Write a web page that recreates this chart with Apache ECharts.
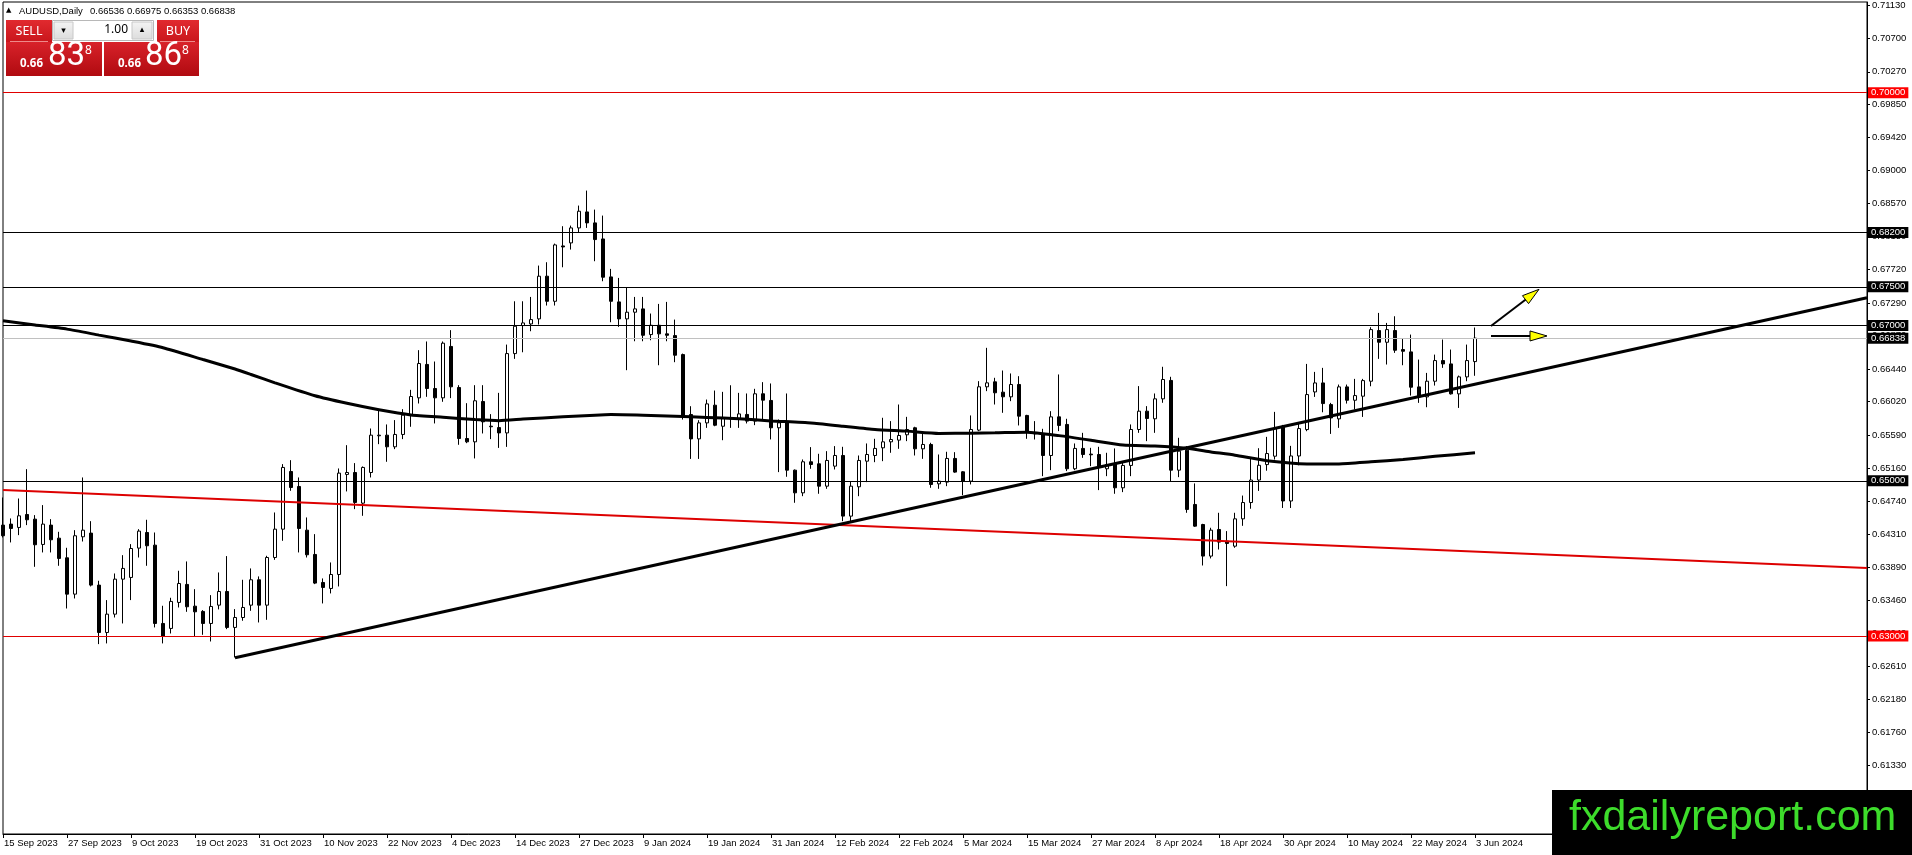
<!DOCTYPE html>
<html><head><meta charset="utf-8">
<script src="https://cdn.jsdelivr.net/npm/echarts@6.0.0/dist/echarts.min.js"></script>
<style>html,body{margin:0;padding:0;background:#fff;overflow:hidden}#c{width:1912px;height:855px}</style>
</head><body><div id="c"></div>
<script>
// ---------- data ----------
const symbolName = 'AUDUSD,Daily';
const dateLabels = ['15 Sep 2023','27 Sep 2023','9 Oct 2023','19 Oct 2023','31 Oct 2023','10 Nov 2023','22 Nov 2023','4 Dec 2023','14 Dec 2023','27 Dec 2023','9 Jan 2024','19 Jan 2024','31 Jan 2024','12 Feb 2024','22 Feb 2024','5 Mar 2024','15 Mar 2024','27 Mar 2024','8 Apr 2024','18 Apr 2024','30 Apr 2024','10 May 2024','22 May 2024','3 Jun 2024'];
const barsPerLabel = 8;
const slotCount = 234;
// [open, high, low, close]
const ohlc = [
[0.64429,0.64785,0.64270,0.64292],[0.64442,0.64515,0.64206,0.64386],[0.64399,0.64772,0.64300,0.64549],[0.64566,0.65150,0.64429,0.64498],
[0.64506,0.64558,0.63892,0.64176],[0.64180,0.64687,0.64077,0.64442],[0.64429,0.64506,0.64077,0.64240],[0.64261,0.64343,0.63905,0.64000],
[0.64008,0.64137,0.63355,0.63540],[0.63540,0.64364,0.63484,0.64292],[0.64279,0.65043,0.64218,0.64364],[0.64326,0.64480,0.63639,0.63656],
[0.63656,0.63712,0.62896,0.63046],[0.63046,0.63463,0.62905,0.63282],[0.63282,0.63806,0.63239,0.63733],[0.63733,0.64042,0.63162,0.63871],
[0.63755,0.64184,0.63463,0.64128],[0.64133,0.64377,0.64012,0.64352],[0.64334,0.64498,0.63905,0.64163],[0.64171,0.64334,0.63111,0.63162],
[0.63162,0.63390,0.62905,0.62995],[0.63098,0.63493,0.63033,0.63446],[0.63433,0.63841,0.63368,0.63677],[0.63665,0.63961,0.63312,0.63377],
[0.63385,0.63604,0.62995,0.63312],[0.63317,0.63334,0.63016,0.63162],[0.63162,0.63527,0.62930,0.63381],[0.63398,0.63819,0.63343,0.63574],
[0.63574,0.64030,0.63089,0.63111],[0.63111,0.63347,0.62724,0.63239],[0.63239,0.63725,0.63197,0.63368],[0.63398,0.63871,0.63325,0.63725],
[0.63725,0.63768,0.63175,0.63398],[0.63398,0.64034,0.63209,0.64012],[0.64012,0.64592,0.63982,0.64377],[0.64377,0.65215,0.64227,0.65172],
[0.65120,0.65266,0.64871,0.64914],[0.64927,0.65043,0.64077,0.64386],[0.64364,0.64528,0.64012,0.64047],[0.64051,0.64313,0.63669,0.63682],
[0.63690,0.63742,0.63420,0.63626],[0.63613,0.63948,0.63549,0.63793],[0.63793,0.65159,0.63639,0.65099],[0.65082,0.65459,0.64863,0.65107],
[0.65107,0.65228,0.64635,0.64721],[0.64712,0.65185,0.64549,0.65172],[0.65107,0.65674,0.65043,0.65588],[0.65580,0.65902,0.65472,0.65588],
[0.65588,0.65726,0.65245,0.65438],[0.65438,0.65782,0.65408,0.65597],[0.65597,0.65923,0.65537,0.65846],[0.65846,0.66172,0.65696,0.66086],
[0.66069,0.66683,0.65996,0.66511],[0.66499,0.66795,0.66082,0.66189],[0.66189,0.66537,0.65739,0.66069],[0.66069,0.66795,0.66018,0.66773],
[0.66731,0.66941,0.66065,0.66211],[0.66202,0.66232,0.65464,0.65545],[0.65545,0.66000,0.65485,0.65502],[0.65502,0.66232,0.65288,0.66031],
[0.66022,0.66232,0.65610,0.65760],[0.65704,0.65859,0.65537,0.65696],[0.65686,0.66133,0.65424,0.65617],[0.65617,0.66755,0.65437,0.66639],
[0.66639,0.67313,0.66571,0.66991],[0.67000,0.67313,0.66656,0.67034],[0.67021,0.67369,0.66927,0.67077],[0.67086,0.67773,0.67013,0.67636],
[0.67636,0.67816,0.67258,0.67313],[0.67313,0.68056,0.67258,0.68039],[0.68026,0.68280,0.67751,0.68013],[0.68065,0.68288,0.67979,0.68258],
[0.68258,0.68546,0.68194,0.68473],[0.68464,0.68739,0.68258,0.68323],[0.68323,0.68494,0.67829,0.68108],[0.68116,0.68417,0.67571,0.67623],
[0.67627,0.67730,0.67043,0.67313],[0.67305,0.67614,0.66983,0.67086],[0.67086,0.67485,0.66425,0.67172],[0.67172,0.67369,0.66798,0.67215],
[0.67215,0.67369,0.66798,0.66875],[0.66884,0.67155,0.66811,0.67004],[0.67004,0.67279,0.66489,0.66893],[0.66893,0.67305,0.66798,0.66875],
[0.66871,0.67077,0.66528,0.66618],[0.66626,0.66639,0.65789,0.65841],[0.65854,0.65961,0.65282,0.65540],[0.65540,0.65781,0.65282,0.65746],
[0.65746,0.66047,0.65682,0.65991],[0.65974,0.66163,0.65703,0.65716],[0.65703,0.66146,0.65523,0.65811],[0.65815,0.66231,0.65682,0.65798],
[0.65798,0.66133,0.65682,0.65862],[0.65855,0.66125,0.65739,0.65769],[0.65769,0.66185,0.65717,0.66121],[0.66121,0.66271,0.65790,0.66039],
[0.66035,0.66254,0.65533,0.65683],[0.65683,0.65790,0.65112,0.65747],[0.65760,0.66125,0.65052,0.65137],[0.65137,0.65146,0.64717,0.64845],
[0.64845,0.65275,0.64802,0.65245],[0.65245,0.65434,0.65155,0.65210],[0.65219,0.65348,0.64833,0.64931],[0.64931,0.65382,0.64897,0.65262],
[0.65189,0.65447,0.65146,0.65326],[0.65326,0.65438,0.64480,0.64545],[0.64545,0.64996,0.64468,0.64931],[0.64923,0.65326,0.64802,0.65262],
[0.65253,0.65481,0.64983,0.65339],[0.65326,0.65541,0.65240,0.65417],[0.65425,0.65812,0.65253,0.65502],[0.65502,0.65769,0.65361,0.65532],
[0.65524,0.65983,0.65412,0.65584],[0.65593,0.65824,0.65511,0.65661],[0.65683,0.65696,0.65326,0.65412],[0.65412,0.65610,0.65283,0.65468],
[0.65468,0.65490,0.64910,0.64953],[0.64961,0.65339,0.64897,0.64996],[0.64983,0.65374,0.64931,0.65288],[0.65288,0.65369,0.65103,0.65112],
[0.65116,0.65125,0.64815,0.64996],[0.64996,0.65842,0.64953,0.65661],[0.65653,0.66284,0.65640,0.66211],[0.66211,0.66713,0.66155,0.66262],
[0.66275,0.66327,0.65983,0.66134],[0.66142,0.66421,0.65876,0.66082],[0.66082,0.66383,0.66026,0.66241],[0.66241,0.66348,0.65713,0.65833],
[0.65842,0.65850,0.65541,0.65627],[0.65618,0.65769,0.65532,0.65605],[0.65605,0.65670,0.65060,0.65326],[0.65326,0.65897,0.65137,0.65824],
[0.65824,0.66370,0.65640,0.65713],[0.65726,0.65799,0.65125,0.65155],[0.65155,0.65481,0.65137,0.65417],[0.65417,0.65618,0.65296,0.65339],
[0.65344,0.65425,0.65189,0.65335],[0.65339,0.65438,0.64880,0.65189],[0.65155,0.65361,0.65060,0.65210],[0.65223,0.65417,0.64833,0.64910],
[0.64910,0.65232,0.64854,0.65198],[0.65198,0.65726,0.65060,0.65661],[0.65661,0.66220,0.65618,0.65897],[0.65897,0.65962,0.65511,0.65803],
[0.65799,0.66125,0.65618,0.66056],[0.66056,0.66469,0.66005,0.66305],[0.66293,0.66340,0.64996,0.65137],[0.65137,0.65554,0.65047,0.65382],
[0.65395,0.65447,0.64588,0.64631],[0.64695,0.64966,0.64407,0.64416],[0.64437,0.64446,0.63909,0.64030],[0.64030,0.64395,0.64000,0.64364],
[0.64373,0.64588,0.64115,0.64210],[0.64223,0.64352,0.63643,0.64193],[0.64158,0.64588,0.64137,0.64510],[0.64510,0.64810,0.64420,0.64720],
[0.64720,0.65290,0.64640,0.65010],[0.65010,0.65420,0.64870,0.65200],[0.65209,0.65566,0.65130,0.65351],[0.65317,0.65888,0.65274,0.65673],
[0.65703,0.65720,0.64650,0.64740],[0.64740,0.65450,0.64650,0.65320],[0.65320,0.65737,0.65200,0.65673],[0.65660,0.66506,0.65639,0.66111],
[0.66145,0.66403,0.66081,0.66261],[0.66261,0.66455,0.65883,0.65995],[0.65982,0.66004,0.65604,0.65810],[0.65798,0.66240,0.65682,0.66210],
[0.66210,0.66240,0.65995,0.66038],[0.66038,0.66313,0.65918,0.66098],[0.66090,0.66313,0.65823,0.66291],[0.66283,0.66979,0.66218,0.66948],
[0.66936,0.67163,0.66571,0.66785],[0.66785,0.67034,0.66498,0.66948],[0.66936,0.67120,0.66648,0.66682],[0.66691,0.66828,0.66489,0.66669],
[0.66661,0.66884,0.66098,0.66206],[0.66210,0.66562,0.66004,0.66081],[0.66081,0.66390,0.65948,0.66283],[0.66283,0.66626,0.66227,0.66549],
[0.66549,0.66820,0.66455,0.66506],[0.66506,0.66691,0.66111,0.66120],[0.66120,0.66356,0.65939,0.66339],[0.66339,0.66755,0.66283,0.66549],
[0.66536,0.66975,0.66353,0.66838]
];
// moving average: [bar index, value]
const maPoints = [[0,0.67061],[4,0.67008],[8,0.66954],[12,0.66877],[16,0.66800],[20,0.66715],[25,0.66563],[29,0.66440],[31,0.66370],[34,0.66262],[39,0.66095],[43,0.65998],[47,0.65915],[51,0.65849],[55,0.65818],[59,0.65789],[62,0.65775],[65,0.65795],[70,0.65825],[74,0.65846],[76,0.65853],[80,0.65845],[84,0.65833],[88,0.65817],[92,0.65799],[96,0.65772],[101,0.65745],[105,0.65703],[109,0.65661],[113,0.65640],[117,0.65611],[121,0.65614],[124,0.65618],[128,0.65626],[132,0.65582],[136,0.65523],[140,0.65460],[144,0.65447],[148,0.65418],[151,0.65372],[154,0.65330],[158,0.65258],[163,0.65218],[167,0.65218],[171,0.65244],[175,0.65274],[179,0.65315],[184,0.65360]];
const redTrend = [[0,0.64880],[233,0.63877]];
const blackTrend = [[29,0.62721],[233,0.67359]];
const levelValues = [0.70000,0.68200,0.67500,0.67000,0.66838,0.65000,0.63000];
const levelKinds  = ['red','black','black','black','bid','black','red'];
const yTicks = [0.71130,0.70700,0.70270,0.69850,0.69420,0.69000,0.68570,0.68150,0.67720,0.67290,0.66870,0.66440,0.66020,0.65590,0.65160,0.64740,0.64310,0.63890,0.63460,0.63040,0.62610,0.62180,0.61760,0.61330,0.60900];
const yMin = 0.604496, yMax = 0.711685;
// arrows: [fromBar, fromPrice, toBar, toPrice]
const arrows = [[186,0.66994,192,0.67467],[186,0.66866,193,0.66866]];
const bid = '0.66838', ask = '0.66868', lotSize = '1.00';
const watermark = 'fxdailyreport.com';

// ---------- build ----------
const FONT = '"Liberation Sans", Arial, sans-serif';
const slots = Array.from({length: slotCount}, (_, i) => String(i));
const candleData = ohlc.map(d => [d[0], d[3], d[2], d[1]]);
const lastBar = ohlc[ohlc.length - 1];
const showIdx = i => i % barsPerLabel === 0 && (i / barsPerLabel) < dateLabels.length;
const kindStyle = {
  red:   {line: '#e00000', bg: '#ff0000'},
  black: {line: '#000000', bg: '#000000'},
  bid:   {line: '#c0c0c0', bg: '#000000'}
};
const levelLines = levelValues.map((v, i) => ({
  yAxis: v,
  lineStyle: {color: kindStyle[levelKinds[i]].line, width: 1, type: 'solid'},
  label: {show: true, position: 'end', distance: 1, formatter: () => v.toFixed(5),
    color: '#fff', backgroundColor: kindStyle[levelKinds[i]].bg, padding: [1, 3, 0, 3],
    fontSize: 9.5, lineHeight: 10, fontFamily: FONT}
}));

const redGrad = (a, b) => new echarts.graphic.LinearGradient(0, 0, 0, 1, [{offset: 0, color: a}, {offset: 1, color: b}]);
const bidBig = bid.slice(4, 6), bidSmall = bid.slice(6), bidHead = bid.slice(0, 4);
const askBig = ask.slice(4, 6), askSmall = ask.slice(6), askHead = ask.slice(0, 4);

const chart = echarts.init(document.getElementById('c'), null, {renderer: 'canvas'});
chart.setOption({
  animation: false,
  backgroundColor: '#ffffff',
  grid: {left: 3, right: 45, top: 2, bottom: 21, show: true, borderColor: '#000', borderWidth: 1, backgroundColor: 'transparent'},
  xAxis: {
    type: 'category', data: slots, boundaryGap: false,
    axisLine: {show: true, lineStyle: {color: '#000', width: 1}},
    axisTick: {show: true, interval: i => showIdx(i), length: 4, lineStyle: {color: '#000'}},
    axisLabel: {interval: i => showIdx(i), formatter: (v, i) => dateLabels[i / barsPerLabel] || '',
      align: 'left', margin: 4, fontSize: 9.5, color: '#000', fontFamily: FONT, padding: [0, 0, 0, 1]},
    splitLine: {show: false}
  },
  yAxis: {
    type: 'value', position: 'right', min: yMin, max: yMax, scale: true,
    axisLine: {show: true, lineStyle: {color: '#000', width: 1}},
    axisTick: {show: true, length: 3, customValues: yTicks, lineStyle: {color: '#000'}},
    axisLabel: {customValues: yTicks, formatter: v => v.toFixed(5), margin: 5, fontSize: 9.5, color: '#000', fontFamily: FONT},
    splitLine: {show: false}
  },
  series: [
    {
      type: 'candlestick', data: candleData, barWidth: 4, z: 3,
      itemStyle: {color: '#ffffff', color0: '#000000', borderColor: '#000000', borderColor0: '#000000', borderWidth: 1},
      emphasis: {disabled: true},
      markLine: {silent: true, symbol: ['none', 'none'], animation: false, precision: 5, data: levelLines}
    },
    {type: 'line', data: redTrend, showSymbol: false, silent: true, z: 4, lineStyle: {color: '#dd0000', width: 2}},
    {type: 'line', data: maPoints, showSymbol: false, silent: true, smooth: 0.2, z: 5, lineStyle: {color: '#000', width: 3}},
    {type: 'line', data: blackTrend, showSymbol: false, silent: true, z: 5, lineStyle: {color: '#000', width: 3}},
    {
      type: 'custom', data: arrows, z: 6, silent: true,
      renderItem: (params, api) => {
        const a = api.coord([api.value(0), api.value(1)]);
        const b = api.coord([api.value(2), api.value(3)]);
        const dx = b[0] - a[0], dy = b[1] - a[1], len = Math.hypot(dx, dy);
        const ux = dx / len, uy = dy / len, hl = 17, hw = 5;
        const base = [b[0] - ux * hl, b[1] - uy * hl];
        const p1 = [base[0] - uy * hw, base[1] + ux * hw];
        const p2 = [base[0] + uy * hw, base[1] - ux * hw];
        return {type: 'group', children: [
          {type: 'line', shape: {x1: a[0], y1: a[1], x2: base[0] + ux * 2, y2: base[1] + uy * 2}, style: {stroke: '#000', lineWidth: 2}},
          {type: 'polygon', shape: {points: [b, p1, p2]}, style: {fill: '#ffff00', stroke: '#000', lineWidth: 1}}
        ]};
      }
    }
  ],
  graphic: [
    {type: 'text', left: 6, top: 7, style: {text: '▲', font: '7px "DejaVu Sans"', fill: '#000'}},
    {type: 'text', x: 19, y: 11, style: {text: symbolName, font: '9.5px ' + FONT, fill: '#000', verticalAlign: 'middle'}},
    {type: 'text', x: 90, y: 11, style: {text: lastBar.map(v => v.toFixed(5)).join(' '), font: '9.5px ' + FONT, fill: '#000', verticalAlign: 'middle'}},
    // SELL
    {type: 'rect', shape: {x: 6, y: 20, width: 46, height: 22}, style: {fill: redGrad('#e12a2f', '#c9161c')}},
    {type: 'line', shape: {x1: 10, y1: 41.5, x2: 48, y2: 41.5}, style: {stroke: '#ee8a8a', lineWidth: 1}},
    {type: 'text', x: 29, y: 31, style: {text: 'SELL', font: '12.5px "Noto Sans"', fill: '#fff', align: 'center', verticalAlign: 'middle'}},
    // spinner
    {type: 'rect', shape: {x: 52.5, y: 20.5, width: 101, height: 20}, style: {fill: '#ffffff', stroke: '#b8b8b8', lineWidth: 1}},
    {type: 'rect', shape: {x: 54, y: 22, width: 19, height: 17}, style: {fill: redGrad('#f4f4f4', '#dcdcdc'), stroke: '#c8c8c8'}},
    {type: 'rect', shape: {x: 132, y: 22, width: 20, height: 17}, style: {fill: redGrad('#f4f4f4', '#dcdcdc'), stroke: '#c8c8c8'}},
    {type: 'text', x: 63.5, y: 31, style: {text: '▾', font: '9px "DejaVu Sans"', fill: '#000', align: 'center', verticalAlign: 'middle'}},
    {type: 'text', x: 142, y: 30, style: {text: '▴', font: '9px "DejaVu Sans"', fill: '#000', align: 'center', verticalAlign: 'middle'}},
    {type: 'text', x: 128, y: 30, style: {text: lotSize, font: '12px "Noto Sans"', fill: '#000', align: 'right', verticalAlign: 'middle'}},
    // BUY
    {type: 'rect', shape: {x: 157, y: 20, width: 42, height: 22}, style: {fill: redGrad('#e12a2f', '#c9161c')}},
    {type: 'line', shape: {x1: 160, y1: 41.5, x2: 195, y2: 41.5}, style: {stroke: '#ee8a8a', lineWidth: 1}},
    {type: 'text', x: 178, y: 31, style: {text: 'BUY', font: '12.5px "Noto Sans"', fill: '#fff', align: 'center', verticalAlign: 'middle'}},
    // price boxes
    {type: 'rect', shape: {x: 6, y: 42, width: 96, height: 34}, style: {fill: redGrad('#d8222a', '#b00a10')}},
    {type: 'rect', shape: {x: 104, y: 42, width: 95, height: 34}, style: {fill: redGrad('#d8222a', '#b00a10')}},
    {type: 'text', x: 20, y: 64, style: {text: bidHead, font: 'bold 11.5px "Noto Sans"', fill: '#fff', verticalAlign: 'middle'}},
    {type: 'text', x: 48, y: 57, style: {text: bidBig, font: '33px Roboto', fill: '#fff', verticalAlign: 'middle'}},
    {type: 'text', x: 85, y: 51, style: {text: bidSmall, font: '12px "Noto Sans"', fill: '#fff', verticalAlign: 'middle'}},
    {type: 'text', x: 118, y: 64, style: {text: askHead, font: 'bold 11.5px "Noto Sans"', fill: '#fff', verticalAlign: 'middle'}},
    {type: 'text', x: 145, y: 57, style: {text: askBig, font: '33px Roboto', fill: '#fff', verticalAlign: 'middle'}},
    {type: 'text', x: 182, y: 51, style: {text: askSmall, font: '12px "Noto Sans"', fill: '#fff', verticalAlign: 'middle'}},
    // watermark
    {type: 'rect', z: 100, shape: {x: 1552, y: 790, width: 360, height: 65}, style: {fill: '#000'}},
    {type: 'text', z: 101, x: 1569, y: 818, style: {text: watermark, font: '43px "Liberation Sans"', fill: '#3ddc2b', verticalAlign: 'middle'}}
  ]
});
</script>
</body></html>
